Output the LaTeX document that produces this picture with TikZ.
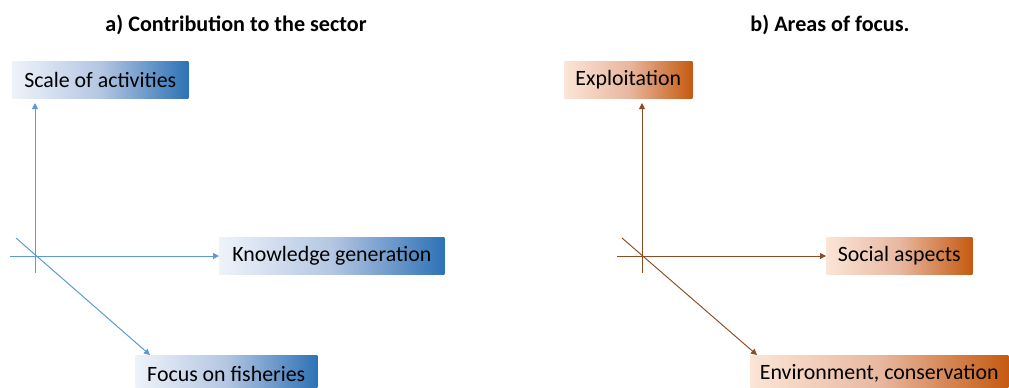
\documentclass[tikz,border=0pt]{standalone}
\usepackage{fontspec}
\setmainfont{Carlito}
\usetikzlibrary{arrows.meta,calc}
\definecolor{bluelight}{HTML}{EEF3FA}
\definecolor{bluemid}{HTML}{B4C6E2}
\definecolor{bluedark}{HTML}{2E72B6}
\definecolor{orlight}{HTML}{FBE5D6}
\definecolor{ormid}{HTML}{E8B8A0}
\definecolor{ordark}{HTML}{C55A11}
\definecolor{blueline}{HTML}{5B9BD5}
\definecolor{brownline}{HTML}{8E4A22}
\tikzset{
  bluebox/.style={left color=bluelight, right color=bluedark, middle color=bluemid, draw=none, inner sep=0pt, font=\fontsize{16.4}{20}\selectfont, anchor=north west},
  orbox/.style={left color=orlight, right color=ordark, middle color=ormid, draw=none, inner sep=0pt, font=\fontsize{16.4}{20}\selectfont, anchor=north west},
  bluearrow/.style={draw=blueline, line width=0.75pt, -{Triangle[length=4.5pt,width=4.5pt]}},
  brownarrow/.style={draw=brownline, line width=0.7pt, -{Triangle[length=4.5pt,width=4.5pt]}},
  titletext/.style={font=\bfseries\fontsize{16.6}{20}\selectfont}
}
\begin{document}
\begin{tikzpicture}[x=0.75pt,y=-0.75pt]
\useasboundingbox (0,0) rectangle (1009,387);
\clip (0,0) rectangle (1009,387);
% titles
\node[titletext] (ta) at (236,25) {a) Contribution to the sector};
\node[titletext] (tb) at (830,25) {b) Areas of focus.};
% left panel boxes
\node[bluebox, minimum width=132pt, minimum height=27.75pt] (sa) at (12,61) {Scale of activities};
\node[bluebox, minimum width=168.75pt, minimum height=27.75pt] (kg) at (219,237) {Knowledge generation};
\node[bluebox, minimum width=136.5pt, minimum height=27.75pt] (ff) at (135,355) {Focus on fisheries};
% left axes
\coordinate (av0) at (35,273);
\coordinate (av1) at (35,103);
\coordinate (ah0) at (10,256);
\coordinate (ad0) at (16,238);
\coordinate (ad1) at ($(ff.north west)+(15,0)$);
\draw[bluearrow] (av0) -- (av1);
\draw[bluearrow] (ah0) -- (ah0 -| kg.west);
\draw[bluearrow] (ad0) -- (ad1);
% right panel boxes
\node[orbox, minimum width=96pt, minimum height=27.75pt] (ex) at (564,61) {Exploitation};
\node[orbox, minimum width=109.5pt, minimum height=27.75pt] (so) at (826,237) {Social aspects};
\node[orbox, minimum width=193.5pt, minimum height=27.75pt] (en) at (750,355) {Environment, conservation};
% right axes
\coordinate (bv0) at (642,273);
\coordinate (bv1) at (642,103);
\coordinate (bh0) at (617,256);
\coordinate (bd0) at (622,238);
\coordinate (bd1) at ($(en.north west)+(7,0)$);
\draw[brownarrow] (bv0) -- (bv1);
\draw[brownarrow] (bh0) -- (bh0 -| so.west);
\draw[brownarrow] (bd0) -- (bd1);
\end{tikzpicture}
\end{document}
